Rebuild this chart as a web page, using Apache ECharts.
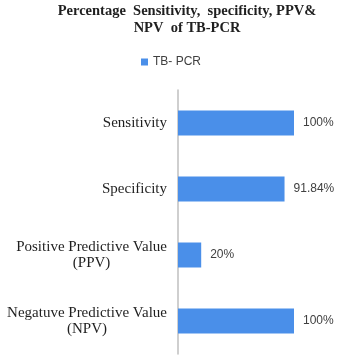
<!DOCTYPE html>
<html>
<head>
<meta charset="utf-8">
<script src="https://cdn.jsdelivr.net/npm/echarts@6/dist/echarts.min.js"></script>
<style>
  html, body { margin: 0; padding: 0; background: #fff; }
  #chart { width: 342px; height: 357px; }
</style>
</head>
<body>
<div id="chart"></div>
<script>
// Diagnostic performance of TB-PCR (percent)
const categories = [
  'Sensitivity',
  'Specificity',
  'Positive Predictive Value\n(PPV)',
  'Negatuve Predictive Value\n(NPV)'
];
const seriesName = 'TB- PCR';
const values = [100, 91.84, 20, 100];
const valueLabels = ['100%', '91.84%', '20%', '100%'];

const chart = echarts.init(document.getElementById('chart'));

chart.setOption({
  animation: false,
  title: {
    text: 'Percentage  Sensitivity,  specificity, PPV&\nNPV  of TB-PCR',
    left: 182,
    textAlign: 'center',
    top: -2,
    textStyle: {
      fontFamily: '"Liberation Serif", serif',
      fontWeight: 'bold',
      fontSize: 14.5,
      lineHeight: 17,
      color: '#1f1f1f'
    }
  },
  legend: {
    data: [seriesName],
    top: 51,
    left: 'center',
    itemWidth: 7,
    itemHeight: 7,
    itemGap: 4,
    icon: 'rect',
    textStyle: {
      fontFamily: '"Liberation Sans", sans-serif',
      fontSize: 12,
      color: '#404040'
    }
  },
  grid: {
    left: 178,
    right: 48,
    top: 90,
    bottom: 3,
    containLabel: false
  },
  xAxis: {
    type: 'value',
    min: 0,
    max: 100,
    show: false
  },
  yAxis: {
    type: 'category',
    inverse: true,
    data: categories,
    axisLine: { show: true, lineStyle: { color: '#bfbfbf', width: 1.5 } },
    axisTick: { show: false },
    axisLabel: {
      margin: 11,
      formatter: function (v) {
        return v.split('\n').map(function (s) { return '{c|' + s + '}'; }).join('\n');
      },
      rich: {
        c: {
          align: 'center',
          fontFamily: '"Liberation Serif", serif',
          fontSize: 15,
          lineHeight: 16,
          color: '#1f1f1f'
        }
      }
    }
  },
  series: [{
    name: seriesName,
    type: 'bar',
    data: values,
    barWidth: 25,
    itemStyle: { color: '#4a8fe9' },
    label: {
      show: true,
      position: 'right',
      distance: 9,
      formatter: function (p) { return valueLabels[p.dataIndex]; },
      fontFamily: '"Liberation Sans", sans-serif',
      fontSize: 12,
      color: '#404040'
    }
  }]
});
</script>
</body>
</html>
